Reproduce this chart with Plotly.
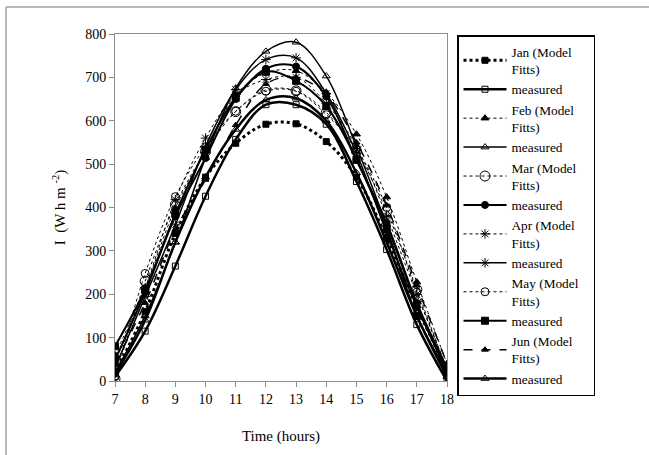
import plotly.graph_objects as go

hours = [7, 8, 9, 10, 11, 12, 13, 14, 15, 16, 17, 18]

jan_model = [20, 160, 340, 470, 548, 592, 593, 552, 470, 330, 170, 25]
jan_meas = [10, 115, 265, 426, 557, 637, 637, 592, 460, 303, 130, 0]
feb_model = [60, 215, 399, 530, 660, 710, 715, 665, 569, 424, 228, 40]
feb_meas = [20, 150, 320, 515, 675, 760, 781, 703, 540, 360, 175, 20]
mar_model = [5, 230, 406, 529, 621, 671, 669, 619, 530, 391, 211, 25]
mar_meas = [48, 205, 380, 514, 650, 720, 725, 656, 510, 364, 180, 30]
apr_model = [50, 215, 418, 560, 660, 695, 700, 640, 540, 380, 200, 30]
apr_meas = [30, 195, 360, 541, 672, 741, 745, 663, 525, 341, 170, 25]
may_model = [10, 248, 425, 540, 622, 668, 668, 614, 535, 400, 205, 28]
may_meas = [80, 211, 385, 533, 653, 713, 692, 634, 510, 350, 150, 20]
jun_model = [40, 180, 349, 464, 590, 685, 700, 660, 550, 405, 220, 40]
jun_meas = [15, 140, 320, 470, 580, 648, 652, 600, 480, 320, 150, 10]

months = ["Jan", "Feb", "Mar", "Apr", "May", "Jun"]
model_vals = [jan_model, feb_model, mar_model, apr_model, may_model, jun_model]
meas_vals = [jan_meas, feb_meas, mar_meas, apr_meas, may_meas, jun_meas]

# style per month: (model dash, model width, model symbol, model size, meas width, meas symbol, meas size)
styles = [
    ("dot", 3, "square", 6, 2.5, "square-open", 6),
    ("dot", 1, "triangle-up", 7, 1.5, "triangle-up-open", 7),
    ("dot", 1, "circle-open", 10, 2, "circle", 7),
    ("dot", 1, "asterisk-open", 8, 1.5, "asterisk-open", 8),
    ("dot", 1, "circle-open", 8, 2, "square", 7),
    ("dash", 1.5, "triangle-up", 6, 2.5, "triangle-up-open", 7),
]

fig = go.Figure()
for m, mv, sv, st in zip(months, model_vals, meas_vals, styles):
    dash, mw, msym, msz, sw, ssym, ssz = st
    fig.add_trace(go.Scatter(
        x=hours, y=mv, mode="lines+markers",
        name=m + " (Model\u00a0\u00a0\u00a0<br>Fitts)",
        legendgroup=m,
        line=dict(color="black", width=mw, dash=dash, shape="spline", smoothing=1),
        marker=dict(symbol=msym, size=msz, color="black", line=dict(color="black", width=1)),
    ))
    fig.add_trace(go.Scatter(
        x=hours, y=sv, mode="lines+markers", name="measured",
        legendgroup=m,
        line=dict(color="black", width=sw, shape="spline", smoothing=1),
        marker=dict(symbol=ssym, size=ssz, color="black", line=dict(color="black", width=1)),
    ))

L, R, T, B = 115, 447, 34, 381
W, H = 649, 455
pw, ph = R - L, B - T

def px(xp):
    return (xp - L) / pw

def py(yp):
    return (B - yp) / ph

font = "Liberation Serif"

fig.update_layout(
    width=W, height=H,
    margin=dict(l=L, r=W - R, t=T, b=H - B),
    paper_bgcolor="white", plot_bgcolor="white",
    font=dict(family=font, size=14, color="black"),
    showlegend=True,
    legend=dict(
        x=px(457), y=py(35), xanchor="left", yanchor="top",
        bordercolor="black", borderwidth=1.5, bgcolor="white",
        font=dict(family=font, size=13.3, color="black"),
        tracegroupgap=0, itemwidth=43, maxheight=420,
    ),
    xaxis=dict(
        range=[7, 18], tickvals=hours, showgrid=False, zeroline=False,
        showline=True, linecolor="#8c8c8c", linewidth=1, mirror=True,
        ticks="outside", ticklen=5, tickcolor="#8c8c8c",
        tickfont=dict(family=font, size=14),
        title=dict(text="Time (hours)", font=dict(family=font, size=15), standoff=24),
    ),
    yaxis=dict(
        range=[0, 800], dtick=100, showgrid=False, zeroline=False,
        showline=True, linecolor="#8c8c8c", linewidth=1, mirror=True,
        ticks="outside", ticklen=5, tickcolor="#8c8c8c",
        tickfont=dict(family=font, size=14),
        title=dict(text="I  (W h m <sup>-2</sup>)", font=dict(family=font, size=15), standoff=15),
    ),
    shapes=[
        dict(type="line", xref="paper", yref="paper", x0=px(6), x1=px(660), y0=py(7), y1=py(7),
             line=dict(color="#a0a0a0", width=1.5)),
        dict(type="line", xref="paper", yref="paper", x0=px(6), x1=px(6), y0=py(7), y1=py(470),
             line=dict(color="#a0a0a0", width=1.5)),
    ],
)

fig.write_html("out.html", config={"displayModeBar": False},
               post_script="document.body.style.margin='0px';document.body.style.padding='0px';")
